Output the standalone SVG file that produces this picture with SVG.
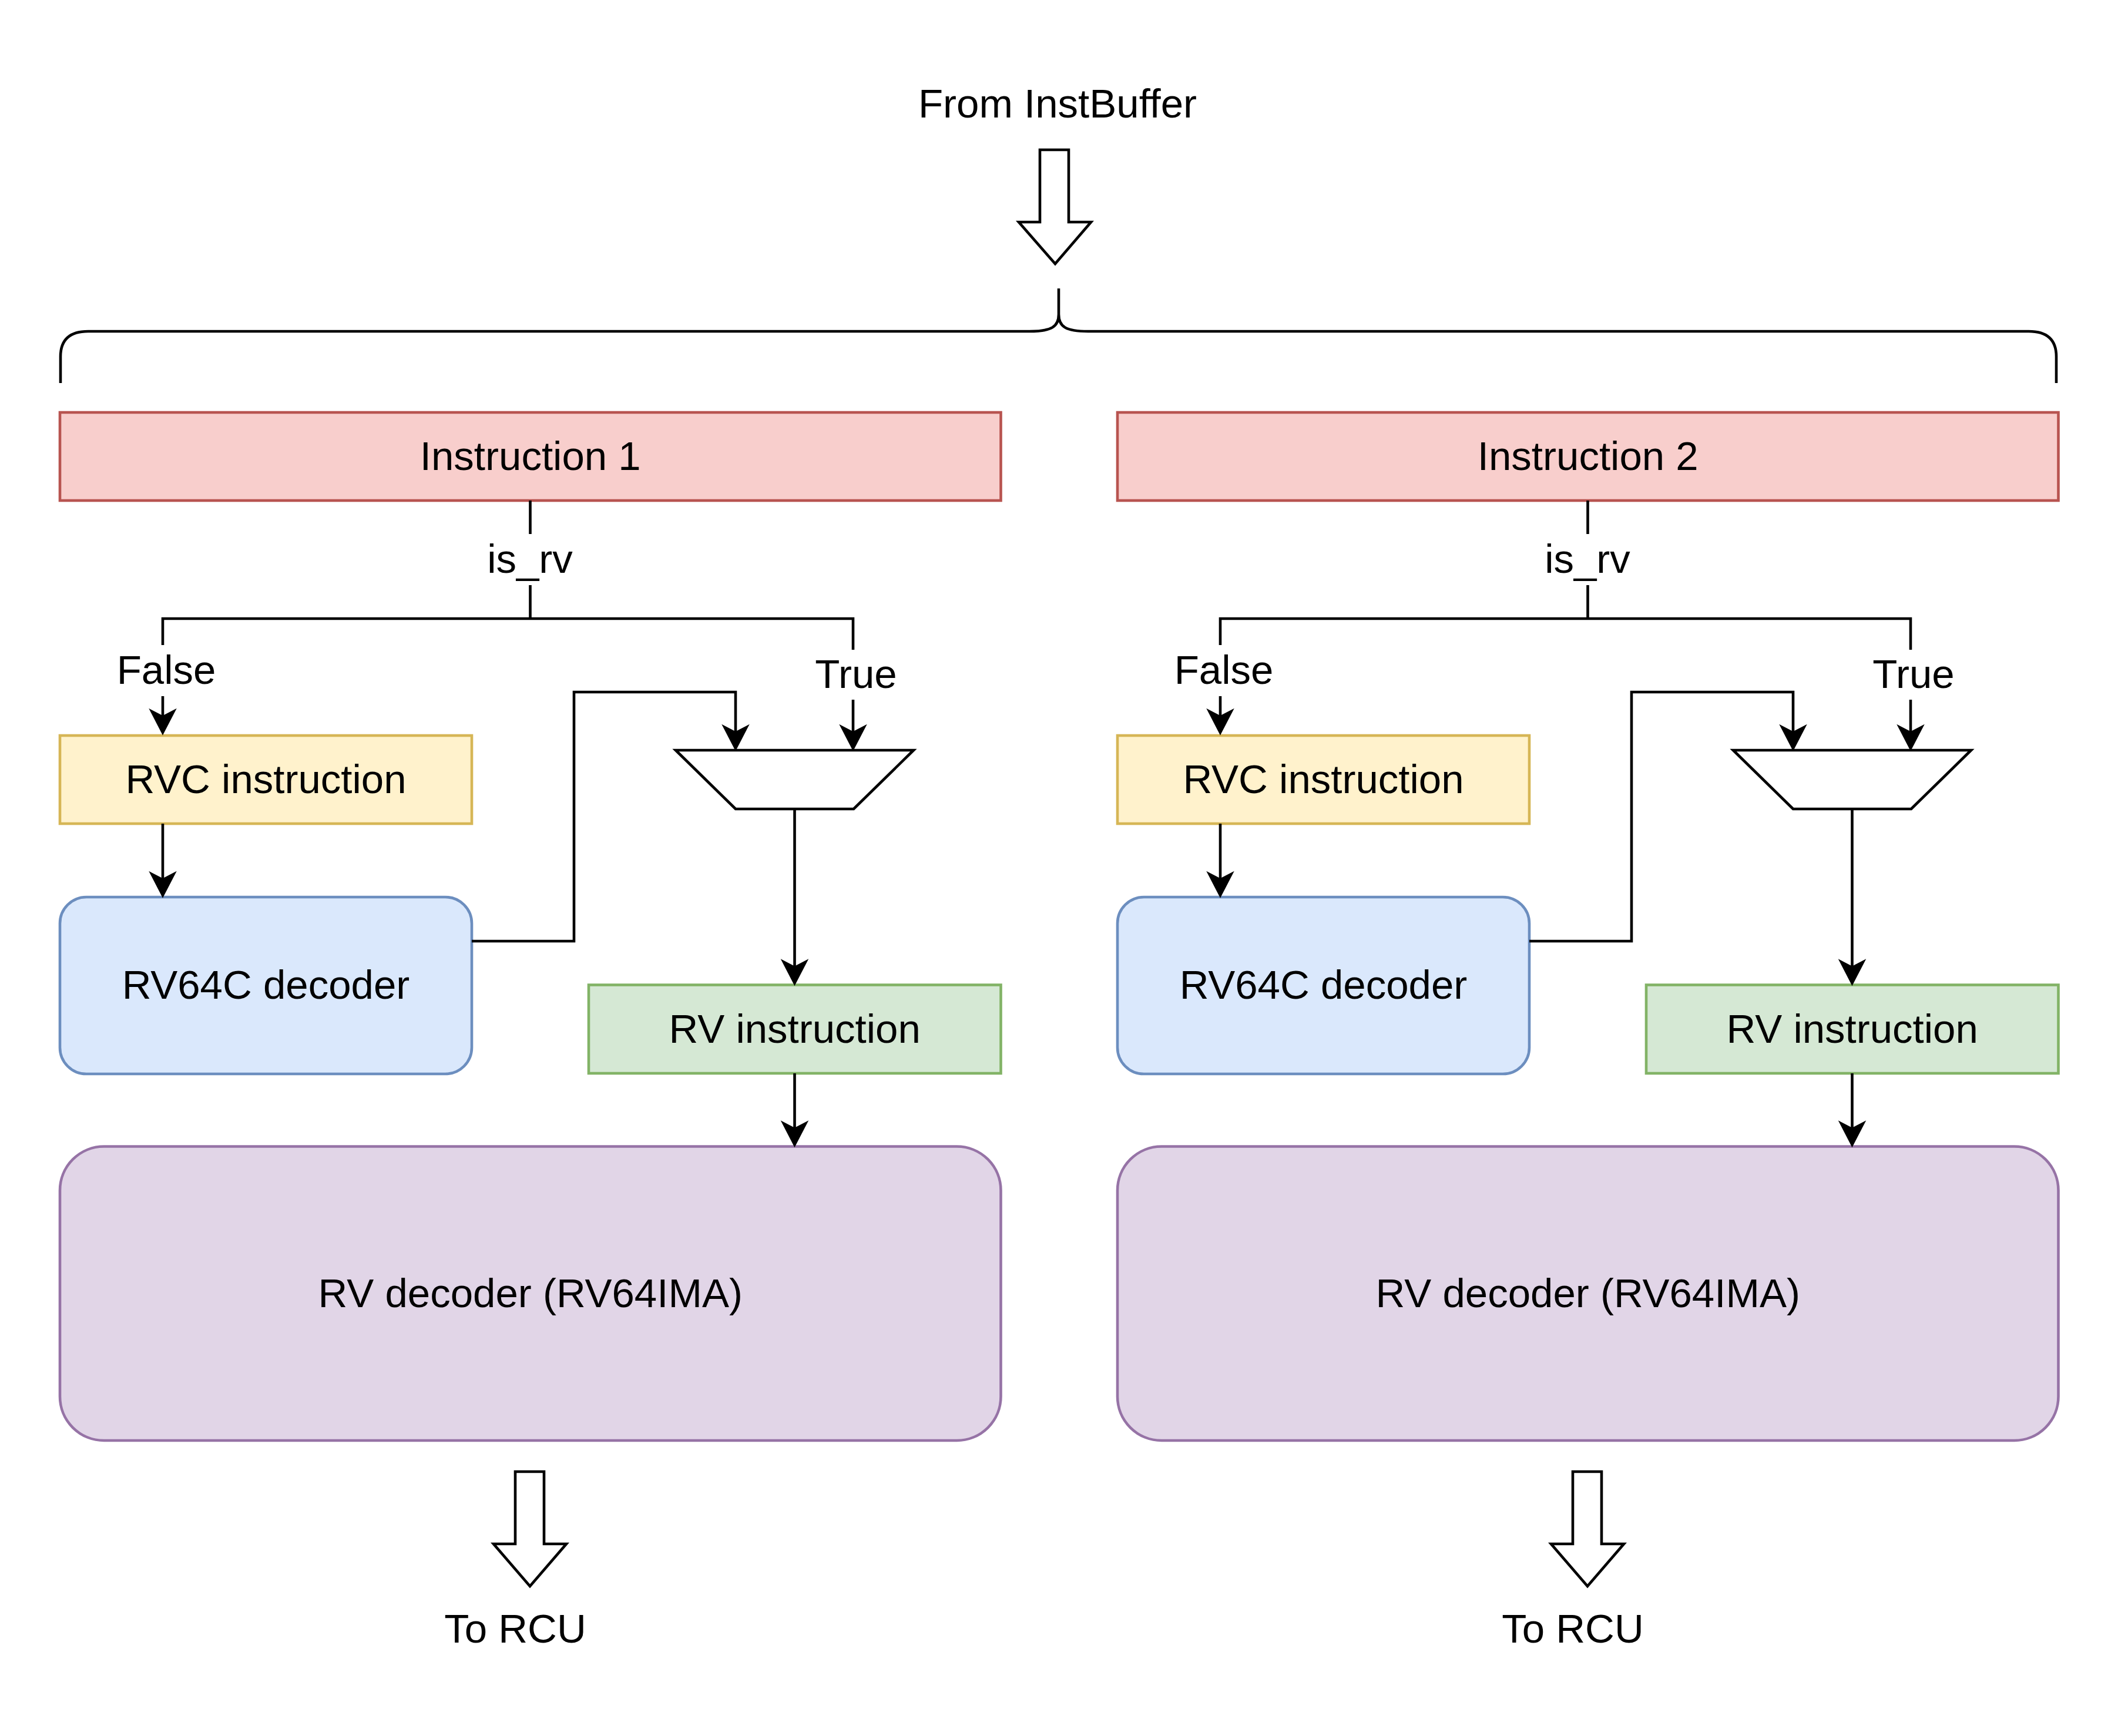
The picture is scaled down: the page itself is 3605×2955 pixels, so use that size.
<svg xmlns="http://www.w3.org/2000/svg" width="3605" height="2955" viewBox="0 0 3605 2955">
<style>
  text { font-family: "Liberation Sans", Arial, Helvetica, sans-serif; font-size: 69px; fill: #000; text-anchor: middle; }
  .edge { fill: none; stroke: #000; stroke-width: 4.6; stroke-linejoin: miter; }
  .red { fill: #f8cecc; stroke: #b85450; stroke-width: 4.6; }
  .yellow { fill: #fff2cc; stroke: #d6b656; stroke-width: 4.6; }
  .blue { fill: #dae8fc; stroke: #6c8ebf; stroke-width: 4.6; }
  .green { fill: #d5e8d4; stroke: #82b366; stroke-width: 4.6; }
  .purple { fill: #e1d5e7; stroke: #9673a6; stroke-width: 4.6; }
  .shape { fill: #fff; stroke: #000; stroke-width: 4.6; stroke-linejoin: miter; }
</style>
<defs>
  <marker id="arrow" markerUnits="userSpaceOnUse" viewBox="-14 -25 48 50" markerWidth="48" markerHeight="50" refX="0" refY="0" orient="auto" overflow="visible">
    <path d="M31,0 L-11.5,-22 L0,0 L-11.5,22 Z" fill="#000" stroke="#000" stroke-width="1.5" stroke-linejoin="miter"/>
  </marker>
</defs>
<rect x="0" y="0" width="3605" height="2955" fill="#fff"/>

<g id="from-instbuffer">
  <text x="1800" y="200">From InstBuffer</text>
  <polygon class="shape" points="1770,255 1819,255 1819,378 1857,378 1796,449 1734,378 1770,378"/>
</g>

<g id="brace">
  <path class="edge" d="M103,652 V607 Q103,564 150,564 H1752 C1790,564 1802,556 1802,535 V491 M1802,535 C1802,556 1814,564 1852,564 H3453 Q3500,564 3500,607 V652"/>
</g>

<g id="instruction-1">
  <rect class="red" x="102" y="702" width="1601.5" height="150"/>
  <text x="902.75" y="800">Instruction 1</text>
</g>
<g id="rvc-instruction-1">
  <rect class="yellow" x="102" y="1252" width="701" height="150"/>
  <text x="452.5" y="1350">RVC instruction</text>
</g>
<g id="rv64c-decoder-1">
  <rect class="blue" x="102" y="1527" width="701" height="301" rx="45" ry="45"/>
  <text x="452.5" y="1700">RV64C decoder</text>
</g>
<g id="mux-1">
  <polygon class="shape" points="1150,1277 1555,1277 1453,1377 1252,1377"/>
</g>
<g id="rv-instruction-1">
  <rect class="green" x="1002" y="1676.5" width="701.5" height="150.5"/>
  <text x="1352.75" y="1775">RV instruction</text>
</g>
<g id="rv-decoder-1">
  <rect class="purple" x="102" y="1951.5" width="1601.5" height="500.5" rx="75" ry="75"/>
  <text x="902.75" y="2225">RV decoder (RV64IMA)</text>
</g>
<g id="to-rcu-1">
  <polygon class="shape" points="877,2505 926,2505 926,2628 964,2628 902,2700 840,2628 877,2628"/>
  <text x="877" y="2796">To RCU</text>
</g>

<g id="instruction-2">
  <rect class="red" x="1902" y="702" width="1601.5" height="150"/>
  <text x="2702.75" y="800">Instruction 2</text>
</g>
<g id="rvc-instruction-2">
  <rect class="yellow" x="1902" y="1252" width="701" height="150"/>
  <text x="2252.5" y="1350">RVC instruction</text>
</g>
<g id="rv64c-decoder-2">
  <rect class="blue" x="1902" y="1527" width="701" height="301" rx="45" ry="45"/>
  <text x="2252.5" y="1700">RV64C decoder</text>
</g>
<g id="mux-2">
  <polygon class="shape" points="2950,1277 3355,1277 3253,1377 3052,1377"/>
</g>
<g id="rv-instruction-2">
  <rect class="green" x="2802" y="1676.5" width="701.5" height="150.5"/>
  <text x="3152.75" y="1775">RV instruction</text>
</g>
<g id="rv-decoder-2">
  <rect class="purple" x="1902" y="1951.5" width="1601.5" height="500.5" rx="75" ry="75"/>
  <text x="2702.75" y="2225">RV decoder (RV64IMA)</text>
</g>
<g id="to-rcu-2">
  <polygon class="shape" points="2677,2505 2726,2505 2726,2628 2764,2628 2702,2700 2640,2628 2677,2628"/>
  <text x="2677" y="2796">To RCU</text>
</g>

<g id="connectors">
  <!-- left column -->
  <path class="edge" d="M902.5,852 V909 M902.5,996 V1053"/>
  <path class="edge" d="M277,1098 V1053 H1452 V1106"/>
  <path class="edge" d="M277,1185 V1219" marker-end="url(#arrow)"/>
  <path class="edge" d="M1452,1191 V1246" marker-end="url(#arrow)"/>
  <path class="edge" d="M277,1402 V1496" marker-end="url(#arrow)"/>
  <path class="edge" d="M803,1602 H977 V1178 H1252 V1246" marker-end="url(#arrow)"/>
  <path class="edge" d="M1352.5,1377 V1645.5" marker-end="url(#arrow)"/>
  <path class="edge" d="M1352.5,1827 V1920.5" marker-end="url(#arrow)"/>
  <text x="902" y="975">is_rv</text>
  <text x="283" y="1164">False</text>
  <text x="1457" y="1171">True</text>
  <!-- right column -->
  <path class="edge" d="M2702.5,852 V909 M2702.5,996 V1053"/>
  <path class="edge" d="M2077,1098 V1053 H3252 V1106"/>
  <path class="edge" d="M2077,1185 V1219" marker-end="url(#arrow)"/>
  <path class="edge" d="M3252,1191 V1246" marker-end="url(#arrow)"/>
  <path class="edge" d="M2077,1402 V1496" marker-end="url(#arrow)"/>
  <path class="edge" d="M2603,1602 H2777 V1178 H3052 V1246" marker-end="url(#arrow)"/>
  <path class="edge" d="M3152.5,1377 V1645.5" marker-end="url(#arrow)"/>
  <path class="edge" d="M3152.5,1827 V1920.5" marker-end="url(#arrow)"/>
  <text x="2702" y="975">is_rv</text>
  <text x="2083" y="1164">False</text>
  <text x="3257" y="1171">True</text>
</g>
</svg>
